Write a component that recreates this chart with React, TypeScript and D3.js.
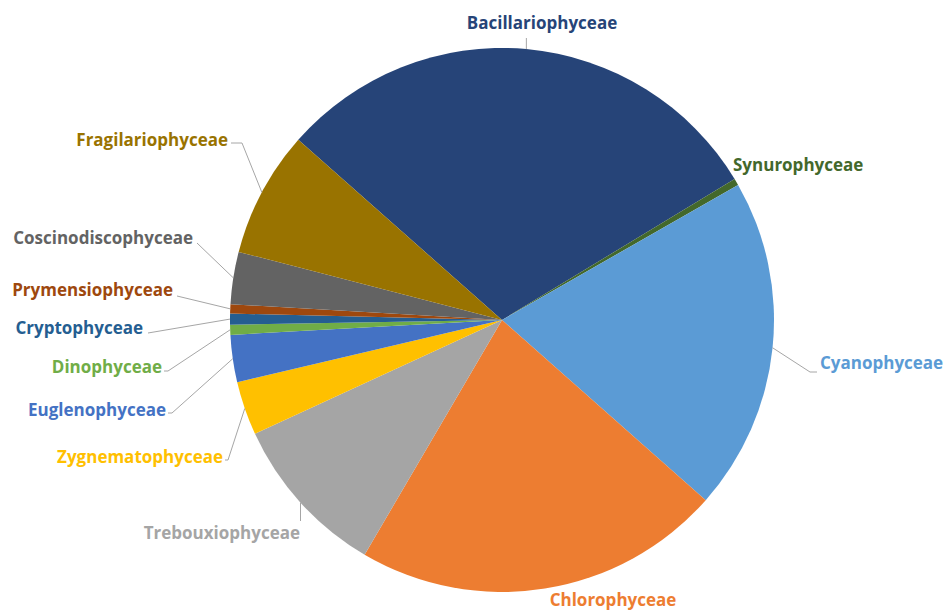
import React from "react";
import * as d3 from "d3";

const categories = [
  "Bacillariophyceae",
  "Synurophyceae",
  "Cyanophyceae",
  "Chlorophyceae",
  "Trebouxiophyceae",
  "Zygnematophyceae",
  "Euglenophyceae",
  "Dinophyceae",
  "Cryptophyceae",
  "Prymensiophyceae",
  "Coscinodiscophyceae",
  "Fragilariophyceae",
];

const values = [29.8, 0.4, 19.8, 21.9, 9.7, 3.2, 2.8, 0.6, 0.65, 0.55, 3.1, 7.5];

const colors = [
  "#264478",
  "#43682B",
  "#5B9BD5",
  "#ED7D31",
  "#A5A5A5",
  "#FFC000",
  "#4472C4",
  "#70AD47",
  "#255E91",
  "#9E480E",
  "#636363",
  "#997300",
];

// label layout: text position, anchor, and leader elbow points (after the arc point)
const labelLayout: { x: number; y: number; anchor: string; path: [number, number][] }[] = [
  { x: 542, y: 29, anchor: "middle", path: [[-1, 38]] },
  { x: 733, y: 171, anchor: "start", path: [] },
  { x: 820, y: 369, anchor: "start", path: [[810, 372], [817, 372]] },
  { x: 613, y: 606, anchor: "middle", path: [] },
  { x: 300, y: 539, anchor: "end", path: [[-1, 521]] },
  { x: 223, y: 463, anchor: "end", path: [[228, 460], [225, 460]] },
  { x: 166, y: 416, anchor: "end", path: [[172, 413], [168, 413]] },
  { x: 162, y: 373, anchor: "end", path: [[168, 371], [164, 371]] },
  { x: 143, y: 334, anchor: "end", path: [[148, 333]] },
  { x: 173, y: 296, anchor: "end", path: [[177, 296]] },
  { x: 193, y: 244, anchor: "end", path: [[197, 243]] },
  { x: 228, y: 146, anchor: "end", path: [[242, 143], [231, 143]] },
];

const W = 943;
const H = 612;
const cx = 502;
const cy = 320;
const R = 272;
const startDeg = 311.5;

export default function App() {
  const a0 = (startDeg * Math.PI) / 180;
  const pie = d3
    .pie<number>()
    .sort(null)
    .value((d) => d)
    .startAngle(a0)
    .endAngle(a0 + 2 * Math.PI);
  const arcs = pie(values);
  const arc = d3.arc<d3.PieArcDatum<number>>().innerRadius(0).outerRadius(R);
  const edge = d3.arc<d3.PieArcDatum<number>>().innerRadius(R).outerRadius(R);
  const line = d3.line();

  return (
    <svg
      width={W}
      height={H}
      style={{ position: "absolute", left: 0, top: 0, background: "#fff" }}
    >
      <g transform={`translate(${cx},${cy})`}>
        {arcs.map((a, i) => (
          <path key={i} d={arc(a) || ""} fill={colors[i]} />
        ))}
      </g>
      {arcs.map((a, i) => {
        const lay = labelLayout[i];
        const c = edge.centroid(a);
        const p0: [number, number] = [cx + c[0], cy + c[1]];
        const pts: [number, number][] = [p0];
        lay.path.forEach((p) => pts.push([p[0] < 0 ? p0[0] : p[0], p[1]]));
        return (
          <g key={"l" + i}>
            {pts.length > 1 && (
              <path d={line(pts) || ""} fill="none" stroke="#A6A6A6" strokeWidth={1} />
            )}
            <text
              x={lay.x}
              y={lay.y}
              textAnchor={lay.anchor as any}
              fill={colors[i]}
              fontFamily="'Open Sans', sans-serif"
              fontWeight="bold"
              fontSize={17}
            >
              {categories[i]}
            </text>
          </g>
        );
      })}
    </svg>
  );
}
